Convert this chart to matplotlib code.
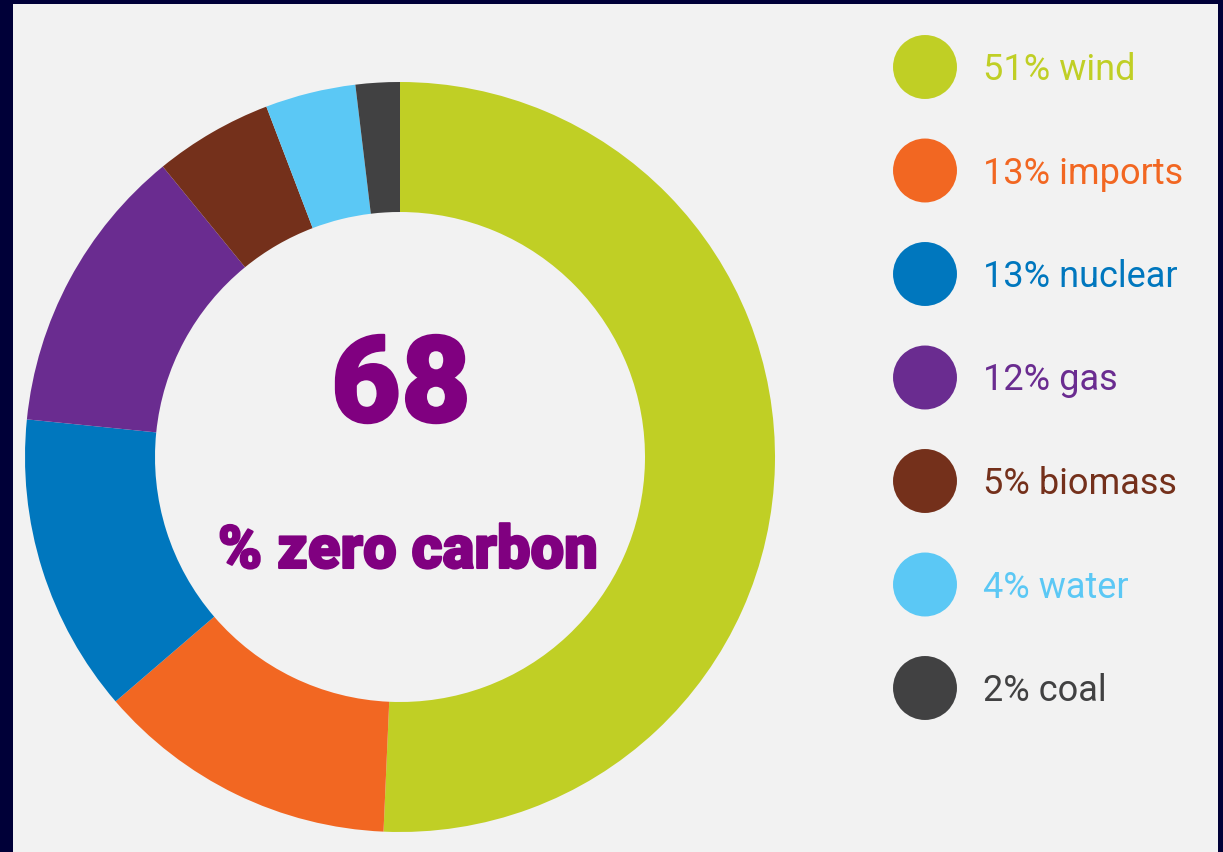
import matplotlib
matplotlib.use("Agg")
import matplotlib.pyplot as plt
from matplotlib.patches import Rectangle
import matplotlib.patheffects as pe

# ---- data ----
sources = ["wind", "imports", "nuclear", "gas", "biomass", "water", "coal"]
# arc sizes as read from the ring (legend shows the rounded figures)
shares = [50.7, 13.0, 12.9, 12.5, 5.1, 3.9, 1.9]
legend_pct = [51, 13, 13, 12, 5, 4, 2]
colors = ["#c0cf25", "#f26722", "#0077be", "#6a2c90", "#74301b", "#5bc8f5", "#414142"]
center_value = "68"
center_label = "% zero carbon"

W, H = 1223, 852
fig = plt.figure(figsize=(W / 100, H / 100), dpi=100)
fig.patch.set_facecolor("#000038")

ax = fig.add_axes([0, 0, 1, 1])

# light panel
ax.add_patch(Rectangle((13, 0), 1218 - 13, H - 4, facecolor="#f2f2f2", edgecolor="none", zorder=0))

# donut
cx, cy = 400, H - 457
R_out, width = 375, 130
ax.pie(shares, colors=colors, startangle=90, counterclock=False,
       radius=R_out, center=(cx, cy), frame=True,
       wedgeprops=dict(width=width, edgecolor="none", linewidth=0))
ax.set_xlim(0, W)
ax.set_ylim(0, H)
ax.set_aspect("equal")
ax.axis("off")

purple = "#800080"
# center text
ax.text(cx + 1, H - 422, center_value, ha="center", va="baseline", fontsize=87,
        fontweight="black", family=["Roboto", "DejaVu Sans"], color=purple,
        path_effects=[pe.withStroke(linewidth=1.5, foreground=purple)])
ax.text(408, H - 568, center_label, ha="center", va="baseline", fontsize=43,
        fontweight="black", family=["Roboto", "DejaVu Sans"], color=purple,
        path_effects=[pe.withStroke(linewidth=1.5, foreground=purple)])

# legend
y0, dy = 67, 103.5
for i, (name, val, col) in enumerate(zip(sources, legend_pct, colors)):
    y = H - (y0 + i * dy)
    ax.scatter([925], [y], s=2120, color=col, edgecolors="none", zorder=3)
    ax.text(983, y - 13, f"{val}% {name}", ha="left", va="baseline", fontsize=26,
            family=["Roboto", "DejaVu Sans"], color=col)

fig.savefig("out.png", dpi=100, facecolor=fig.get_facecolor())
